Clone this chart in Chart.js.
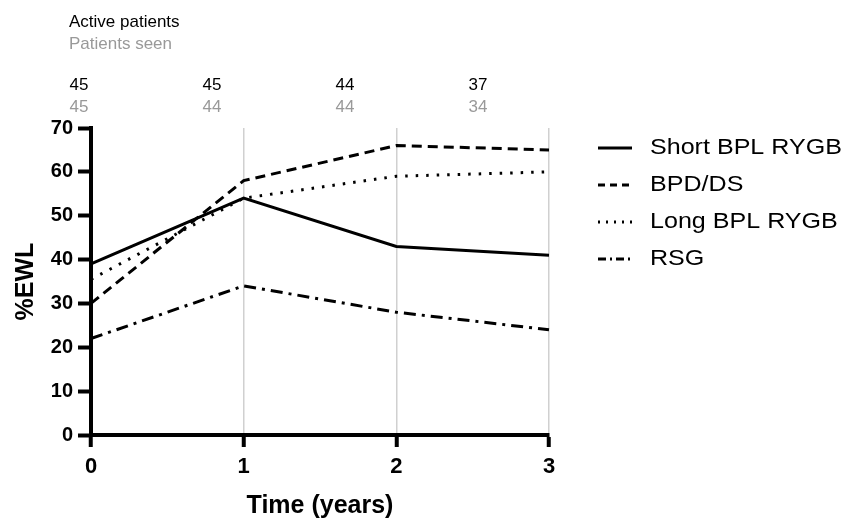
<!DOCTYPE html>
<html>
<head>
<meta charset="utf-8">
<script src="https://cdn.jsdelivr.net/npm/chart.js@4.4.1/dist/chart.umd.min.js"></script>
<style>
  body { margin: 0; background: #fff; }
  #wrap { width: 855px; height: 518px; }
</style>
</head>
<body>
<div id="wrap"><canvas id="ewl-chart" width="855" height="518"></canvas></div>
<script>
const years = ['0', '1', '2', '3'];
const shortBpl = [39, 54, 43, 41];
const bpdDs = [30, 58, 66, 65];
const longBpl = [35.5, 54, 59, 60];
const rsg = [22, 34, 28, 24];
const activePatients = [45, 45, 44, 37];
const patientsSeen = [45, 44, 44, 34];

const FONT = 'Arial, "Liberation Sans", sans-serif';

const series = [
  { label: 'Short BPL RYGB', data: shortBpl, dash: [], legendDash: [] },
  { label: 'BPD/DS', data: bpdDs, dash: [10, 6], legendDash: [7, 5] },
  { label: 'Long BPL RYGB', data: longBpl, dash: [2.5, 8], legendDash: [2, 6] },
  { label: 'RSG', data: rsg, dash: [12, 6, 3, 6], legendDash: [8, 4, 2, 4] },
];

// patient counts above the plot + the line legend on the right
const annotations = {
  id: 'annotations',
  afterDraw(chart) {
    const ctx = chart.ctx;
    ctx.save();
    ctx.font = '17px ' + FONT;
    ctx.textBaseline = 'middle';
    ctx.textAlign = 'left';
    ctx.fillStyle = '#000';
    ctx.fillText('Active patients', 69, 22);
    ctx.fillStyle = '#999';
    ctx.fillText('Patients seen', 69, 44);
    ctx.textAlign = 'center';
    activePatients.forEach((n, i) => {
      ctx.fillStyle = '#000';
      ctx.fillText(n, 79 + i * 133, 85);
      ctx.fillStyle = '#999';
      ctx.fillText(patientsSeen[i], 79 + i * 133, 107);
    });

    // legend
    ctx.fillStyle = '#000';
    ctx.strokeStyle = '#000';
    ctx.lineWidth = 3;
    series.forEach((s, i) => {
      const y = 148 + i * 37;
      ctx.setLineDash(s.legendDash);
      ctx.beginPath();
      ctx.moveTo(598, y);
      ctx.lineTo(632, y);
      ctx.stroke();
      // the legend text is a bit wider than plain Arial
      ctx.save();
      ctx.font = '22px ' + FONT;
      ctx.textAlign = 'left';
      ctx.translate(650, y);
      ctx.scale(1.14, 1);
      ctx.fillText(s.label, 0, 0);
      ctx.restore();
    });
    ctx.restore();
  }
};

new Chart(document.getElementById('ewl-chart').getContext('2d'), {
  type: 'line',
  data: {
    labels: years,
    datasets: series.map(s => ({
      label: s.label,
      data: s.data,
      borderColor: '#000',
      borderWidth: 3,
      borderDash: s.dash,
      pointRadius: 0,
      tension: 0,
      fill: false,
    })),
  },
  options: {
    responsive: false,
    animation: false,
    layout: { padding: { left: 10, top: 128, right: 306, bottom: 0 } },
    plugins: { legend: { display: false }, tooltip: { enabled: false } },
    scales: {
      x: {
        offset: false,
        afterFit: (scale) => { scale.height = 83; },
        border: { color: '#000', width: 4 },
        grid: {
          color: (c) => (c.index === 0 ? 'rgba(0,0,0,0)' : '#d0d0d0'),
          lineWidth: 1.5,
          tickColor: '#000',
          tickWidth: 4,
          tickLength: 12,
        },
        ticks: { color: '#000', font: { family: FONT, size: 22, weight: 'bold' }, padding: 7 },
        title: {
          display: true,
          text: 'Time (years)',
          color: '#000',
          font: { family: FONT, size: 25, weight: 'bold', lineHeight: 1 },
          padding: { top: 0, bottom: -1 },
        },
      },
      y: {
        min: 0,
        max: 70,
        afterFit: (scale) => { scale.width = 81; },
        border: { color: '#000', width: 4 },
        grid: {
          drawOnChartArea: false,
          tickColor: '#000',
          tickWidth: 4,
          tickLength: 13,
        },
        ticks: { stepSize: 10, color: '#000', font: { family: FONT, size: 20, weight: 'bold' }, padding: 5 },
        title: {
          display: true,
          text: '%EWL',
          color: '#000',
          font: { family: FONT, size: 25, weight: 'bold', lineHeight: 1 },
          padding: { top: 4, bottom: 0 },
        },
      },
    },
  },
  plugins: [annotations],
});
</script>
</body>
</html>
